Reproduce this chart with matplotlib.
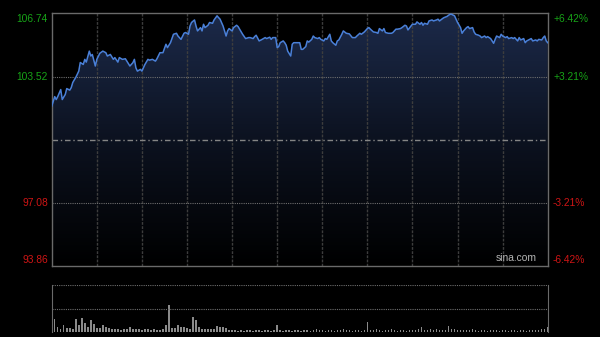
import numpy as np
import matplotlib
matplotlib.use("Agg")
import matplotlib.pyplot as plt
from matplotlib.colors import LinearSegmentedColormap
from matplotlib.transforms import blended_transform_factory

plt.rcParams['font.family'] = ['Liberation Sans', 'DejaVu Sans']

# intraday price (minutes since open, 330 trading minutes)
minutes = [0, 2, 3, 4, 6, 7, 9, 10, 12, 13, 14, 16, 18, 19, 21, 22, 23, 25, 26, 27,
           29, 30, 32, 34, 36, 37, 39, 41, 42, 44, 45, 47, 49, 50, 52, 54, 55, 56, 57, 59,
           60, 62, 64, 65, 67, 69, 70, 72, 74, 76, 77, 79, 81, 83, 84, 86, 88, 89, 91, 92,
           93, 95, 96, 97, 99, 100, 101, 102, 104, 105, 107, 108, 110, 111, 112, 114, 116, 117, 118, 120,
           121, 123, 124, 125, 127, 129, 131, 132, 134, 135, 136, 138, 140, 142, 143, 145, 146, 147, 149, 150,
           151, 152, 154, 155, 156, 157, 159, 160, 161, 163, 165, 166, 167, 169, 170, 171, 173, 174, 175, 177,
           178, 179, 181, 182, 183, 185, 186, 187, 189, 190, 191, 193, 194, 196, 198, 200, 202, 203, 205, 206,
           208, 210, 211, 212, 214, 216, 217, 218, 220, 221, 222, 224, 226, 227, 229, 230, 232, 233, 235, 236,
           237, 239, 240, 242, 243, 245, 246, 247, 248, 250, 251, 253, 254, 256, 257, 258, 260, 261, 263, 264,
           265, 266, 268, 269, 270, 272, 273, 274, 276, 277, 278, 280, 281, 282, 284, 285, 286, 288, 289, 290,
           292, 293, 294, 295, 296, 298, 299, 300, 302, 303, 304, 306, 307, 308, 310, 311, 312, 314, 315, 316,
           318, 319, 320, 322, 323, 324, 326, 327, 328, 329, 330]
prices = [102.01, 102.50, 102.35, 102.50, 102.86, 102.35, 102.61, 102.91, 102.83, 102.96,
          103.22, 103.48, 103.80, 104.24, 104.14, 104.40, 104.26, 104.82, 104.57, 104.65,
          104.06, 104.40, 104.71, 104.82, 104.74, 104.57, 104.65, 104.40, 104.49, 104.26,
          104.49, 104.40, 104.43, 104.31, 104.06, 104.23, 104.40, 103.97, 103.80, 103.89,
          103.80, 104.14, 104.40, 104.36, 104.40, 104.31, 104.43, 104.74, 104.74, 105.17,
          105.00, 105.25, 105.68, 105.73, 105.59, 105.42, 105.73, 105.77, 105.68, 106.10,
          106.28, 106.41, 106.10, 105.85, 106.02, 105.85, 106.19, 106.02, 106.14, 106.28,
          106.24, 106.41, 106.62, 106.53, 106.45, 106.10, 105.59, 105.85, 105.97, 105.85,
          106.02, 106.14, 106.07, 105.94, 105.68, 105.46, 105.51, 105.51, 105.46, 105.56,
          105.63, 105.34, 105.42, 105.51, 105.46, 105.53, 105.42, 105.51, 105.51, 105.00,
          105.05, 105.25, 105.34, 105.25, 105.12, 104.82, 104.57, 105.17, 105.25, 105.25,
          105.25, 104.91, 104.91, 105.05, 105.34, 105.28, 105.42, 105.59, 105.51, 105.46,
          105.51, 105.42, 105.34, 105.46, 105.42, 105.68, 105.34, 105.25, 105.12, 105.34,
          105.39, 105.68, 105.85, 105.73, 105.70, 105.51, 105.51, 105.59, 105.73, 105.68,
          105.80, 105.97, 106.02, 105.94, 105.80, 105.77, 105.73, 105.97, 105.85, 105.97,
          105.77, 105.73, 105.73, 105.77, 105.94, 105.94, 105.97, 106.02, 106.14, 106.10,
          105.90, 106.10, 106.19, 106.19, 106.31, 106.19, 106.28, 106.14, 106.24, 106.19,
          106.36, 106.41, 106.36, 106.41, 106.45, 106.36, 106.48, 106.53, 106.59, 106.65,
          106.70, 106.70, 106.62, 106.45, 106.28, 106.02, 105.73, 105.85, 106.02, 106.07,
          105.97, 106.02, 105.80, 105.68, 105.63, 105.59, 105.51, 105.59, 105.51, 105.56,
          105.46, 105.34, 105.22, 105.42, 105.59, 105.51, 105.68, 105.59, 105.51, 105.56,
          105.46, 105.51, 105.46, 105.51, 105.34, 105.51, 105.39, 105.46, 105.25, 105.34,
          105.42, 105.46, 105.34, 105.39, 105.34, 105.42, 105.39, 105.51, 105.59, 105.34,
          105.25]

# volume sampled every 2 minutes
vol_minutes = list(range(0, 331, 2))
volumes = [19, 28, 11, 6, 15, 9, 9, 6, 28, 15, 30, 19, 11, 26, 17, 9, 9, 15, 11, 9,
           6, 6, 6, 4, 6, 6, 11, 6, 6, 6, 4, 6, 6, 4, 6, 4, 4, 6, 15, 57,
           9, 9, 15, 11, 11, 9, 6, 32, 26, 11, 6, 6, 6, 6, 6, 13, 11, 11, 9, 4,
           4, 4, 3, 4, 3, 4, 4, 3, 4, 4, 3, 4, 4, 3, 4, 15, 4, 3, 4, 4,
           3, 4, 4, 3, 4, 4, 3, 4, 6, 4, 4, 3, 4, 4, 3, 4, 4, 6, 4, 4,
           3, 4, 4, 3, 4, 21, 4, 4, 6, 4, 3, 4, 4, 6, 4, 3, 4, 4, 3, 4,
           4, 4, 6, 11, 4, 4, 6, 4, 6, 4, 4, 4, 13, 6, 6, 4, 4, 4, 4, 4,
           6, 4, 3, 4, 4, 3, 4, 4, 4, 3, 4, 4, 3, 4, 4, 3, 4, 4, 3, 4,
           4, 4, 4, 6, 6, 11]

prev_close = 100.30
y_levels = [93.86, 97.08, 103.52, 106.74]
y_labels = ['93.86', '97.08', '103.52', '106.74']
pct_labels = ['-6.42%', '-3.21%', '+3.21%', '+6.42%']
green = '#17a317'
red = '#cf1515'
spine_c = '#6a6a6a'

fig = plt.figure(figsize=(6, 3.37), dpi=100)
fig.patch.set_facecolor('black')

ax = fig.add_axes([0.0862, 0.2107, 0.8267, 0.7493])
ax.set_facecolor('black')
ax.set_xlim(0, 330)
ax.set_ylim(93.86, 106.74)

# gradient area under the line
grad = np.linspace(1, 0, 256).reshape(-1, 1)
cmap = LinearSegmentedColormap.from_list('g', ['#000000', '#0c1220', '#1c2a4a'])
im = ax.imshow(grad, extent=[0, 330, 93.86, 106.74], aspect='auto', cmap=cmap,
               origin='upper', zorder=1, interpolation='bilinear')
poly = ax.fill_between(minutes, prices, 93.86, color='none', lw=0)
im.set_clip_path(poly.get_paths()[0], transform=ax.transData)

for m in range(30, 330, 30):
    ax.axvline(m, color='#3d3d3d', lw=1, ls=(0, (2, 1)), zorder=2)
for v in (97.08, 103.52):
    ax.axhline(v, color='#6e6e6e', lw=0.8, ls=(0, (1, 1)), zorder=2)
ax.axhline(prev_close, color='#858585', lw=1, ls=(0, (4, 2, 1, 2)), zorder=2)

ax.plot(minutes, prices, color='#4a80d8', lw=1.1, zorder=3)

ax.set_xticks([])
ax.set_yticks([])
for s in ax.spines.values():
    s.set_color(spine_c)
    s.set_linewidth(1)

trL = blended_transform_factory(fig.transFigure, ax.transData)
for v, lab, pl in zip(y_levels, y_labels, pct_labels):
    c = green if v > prev_close else red
    va = 'center'
    off = 0
    if v == 106.74:
        off = -0.29
    elif v == 93.86:
        off = 0.29
    ax.text(48 / 600, v + off, lab, transform=trL, ha='right', va=va, color=c, fontsize=7.4)
    ax.text(553 / 600, v + off, pl, transform=trL, ha='left', va=va, color=c, fontsize=7.4)

ax.text(0.978, 0.01, 'sina.com', transform=ax.transAxes, ha='right', va='bottom',
        color='#b4b4b4', fontsize=7.4, zorder=4)

# volume panel
axv = fig.add_axes([0.0862, 0.0148, 0.8267, 0.1395])
axv.set_facecolor('black')
axv.set_xlim(0, 330)
axv.set_ylim(0, 100)
axv.bar(vol_minutes, volumes, width=1.0, color='#8a8a8a', lw=0, zorder=2)
axv.axhline(50, color='#6e6e6e', lw=0.8, ls=(0, (1, 1)))
axv.axhline(100, color='#6e6e6e', lw=0.8, ls=(0, (1, 1)))
axv.set_xticks([])
axv.set_yticks([])
axv.spines['top'].set_visible(False)
axv.spines['bottom'].set_visible(False)
for k in ('left', 'right'):
    axv.spines[k].set_color(spine_c)

fig.savefig('out.png', dpi=100, facecolor='black')
